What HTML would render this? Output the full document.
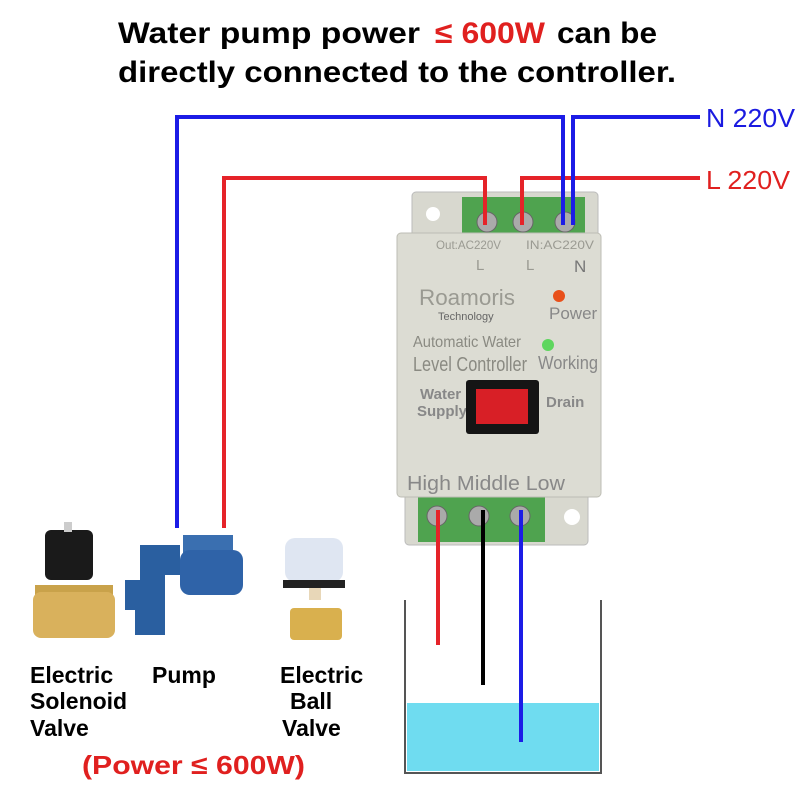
<!DOCTYPE html>
<html><head><meta charset="utf-8"><style>
html,body{margin:0;padding:0;background:#fff;}
svg{display:block;}
text{font-family:"Liberation Sans",sans-serif;}
</style></head><body>
<svg width="800" height="800" viewBox="0 0 800 800" xmlns="http://www.w3.org/2000/svg">
<rect width="800" height="800" fill="#fff"/>
<text x="118" y="43" font-size="30" font-weight="bold" fill="#000" textLength="302" lengthAdjust="spacingAndGlyphs">Water pump power</text>
<text x="435" y="43" font-size="30" font-weight="bold" fill="#e0201f" textLength="110" lengthAdjust="spacingAndGlyphs">≤ 600W</text>
<text x="557" y="43" font-size="30" font-weight="bold" fill="#000" textLength="100" lengthAdjust="spacingAndGlyphs">can be</text>
<text x="118" y="82" font-size="30" font-weight="bold" fill="#000" textLength="558" lengthAdjust="spacingAndGlyphs">directly connected to the controller.</text>
<text x="706" y="127" font-size="26" fill="#1a1ae0" textLength="89" lengthAdjust="spacingAndGlyphs">N 220V</text>
<text x="706" y="189" font-size="26" fill="#e0201f" textLength="84" lengthAdjust="spacingAndGlyphs">L 220V</text>

<g fill="none" stroke-width="4">
<polyline points="177,528 177,117 563,117 563,225" stroke="#1c1ce6"/>
<polyline points="700,117 573,117 573,225" stroke="#1c1ce6"/>
<polyline points="224,528 224,178 485,178 485,225" stroke="#e52329"/>
<polyline points="700,178 522,178 522,225" stroke="#e52329"/>
</g>

<rect x="407" y="703" width="192" height="68" fill="#6fdcf0"/>
<polyline points="405,600 405,773 601,773 601,600" fill="none" stroke="#555" stroke-width="2"/>

<rect x="412" y="192" width="186" height="50" rx="4" fill="#d8d8cf" stroke="#bbb"/>
<circle cx="433" cy="214" r="7" fill="#fff"/>
<rect x="462" y="197" width="123" height="40" fill="#4fa34f"/>
<g fill="#aaa" stroke="#666"><circle cx="487" cy="222" r="10"/><circle cx="523" cy="222" r="10"/><circle cx="565" cy="222" r="10"/></g>
<rect x="405" y="490" width="183" height="55" rx="4" fill="#d8d8cf" stroke="#bbb"/>
<circle cx="572" cy="517" r="8" fill="#fff"/>
<rect x="418" y="497" width="127" height="45" fill="#4fa34f"/>
<g fill="#aaa" stroke="#666"><circle cx="437" cy="516" r="10"/><circle cx="479" cy="516" r="10"/><circle cx="520" cy="516" r="10"/></g>
<rect x="397" y="233" width="204" height="264" rx="4" fill="#dcdcd3" stroke="#bdbdb4"/>
<g fill="none" stroke-width="4">
<line x1="485" y1="178" x2="485" y2="225" stroke="#e52329"/>
<line x1="522" y1="178" x2="522" y2="225" stroke="#e52329"/>
<line x1="563" y1="117" x2="563" y2="225" stroke="#1c1ce6"/>
<line x1="573" y1="117" x2="573" y2="225" stroke="#1c1ce6"/>
<line x1="438" y1="510" x2="438" y2="645" stroke="#e52329"/>
<line x1="483" y1="510" x2="483" y2="685" stroke="#000"/>
<line x1="521" y1="510" x2="521" y2="742" stroke="#1c1ce6"/>
</g>
<g fill="#9a9a92">
<text x="436" y="249" font-size="12" textLength="65" lengthAdjust="spacingAndGlyphs">Out:AC220V</text>
<text x="526" y="249" font-size="12" textLength="68" lengthAdjust="spacingAndGlyphs">IN:AC220V</text>
<text x="476" y="270" font-size="15">L</text>
<text x="526" y="270" font-size="15">L</text>
<text x="574" y="272" font-size="17" fill="#777">N</text>
<text x="419" y="305" font-size="22" textLength="96" lengthAdjust="spacingAndGlyphs">Roamoris</text>
<text x="438" y="320" font-size="11" fill="#666">Technology</text>
<text x="413" y="347" font-size="16" fill="#8a8a82" textLength="108" lengthAdjust="spacingAndGlyphs">Automatic Water</text>
<text x="413" y="371" font-size="20" fill="#8a8a82" textLength="114" lengthAdjust="spacingAndGlyphs">Level Controller</text>
<text x="549" y="319" font-size="17" fill="#888">Power</text>
<text x="538" y="369" font-size="18" fill="#888" textLength="60" lengthAdjust="spacingAndGlyphs">Working</text>
<text x="420" y="399" font-size="15" fill="#888" font-weight="bold">Water</text>
<text x="417" y="416" font-size="15" fill="#888" font-weight="bold">Supply</text>
<text x="546" y="407" font-size="15" fill="#888" font-weight="bold">Drain</text>
<text x="407" y="490" font-size="20" fill="#888" textLength="158" lengthAdjust="spacingAndGlyphs">High Middle Low</text>
</g>
<circle cx="559" cy="296" r="6" fill="#e8501a"/>
<circle cx="548" cy="345" r="6" fill="#5ed65e"/>
<rect x="466" y="380" width="73" height="54" rx="3" fill="#151515"/>
<rect x="476" y="389" width="52" height="35" fill="#d81f26"/>

<rect x="45" y="530" width="48" height="50" rx="6" fill="#1a1a1a"/>
<rect x="64" y="522" width="8" height="10" fill="#ccc"/>
<rect x="35" y="585" width="78" height="10" fill="#c9a24a"/>
<rect x="33" y="592" width="82" height="46" rx="8" fill="#d9b15c"/>
<path d="M140 545 h40 v30 h-15 v60 h-30 v-25 h-10 v-30 h15z" fill="#2a5fa0"/>
<rect x="183" y="535" width="50" height="20" fill="#3a6fb0"/>
<rect x="180" y="550" width="63" height="45" rx="10" fill="#2f63a8"/>
<rect x="285" y="538" width="58" height="44" rx="10" fill="#dfe6f2"/>
<rect x="283" y="580" width="62" height="8" fill="#222"/>
<rect x="309" y="588" width="12" height="12" fill="#e8d7b8"/>
<rect x="290" y="608" width="52" height="32" rx="4" fill="#d9b04e"/>

<g font-size="23" font-weight="bold" fill="#000">
<text x="30" y="683">Electric</text>
<text x="30" y="709">Solenoid</text>
<text x="30" y="736">Valve</text>
<text x="152" y="683">Pump</text>
<text x="280" y="683">Electric</text>
<text x="290" y="709">Ball</text>
<text x="282" y="736">Valve</text>
</g>
<text x="82" y="774" font-size="26" font-weight="bold" fill="#e0201f" textLength="223" lengthAdjust="spacingAndGlyphs">(Power ≤ 600W)</text>
</svg>
</body></html>
